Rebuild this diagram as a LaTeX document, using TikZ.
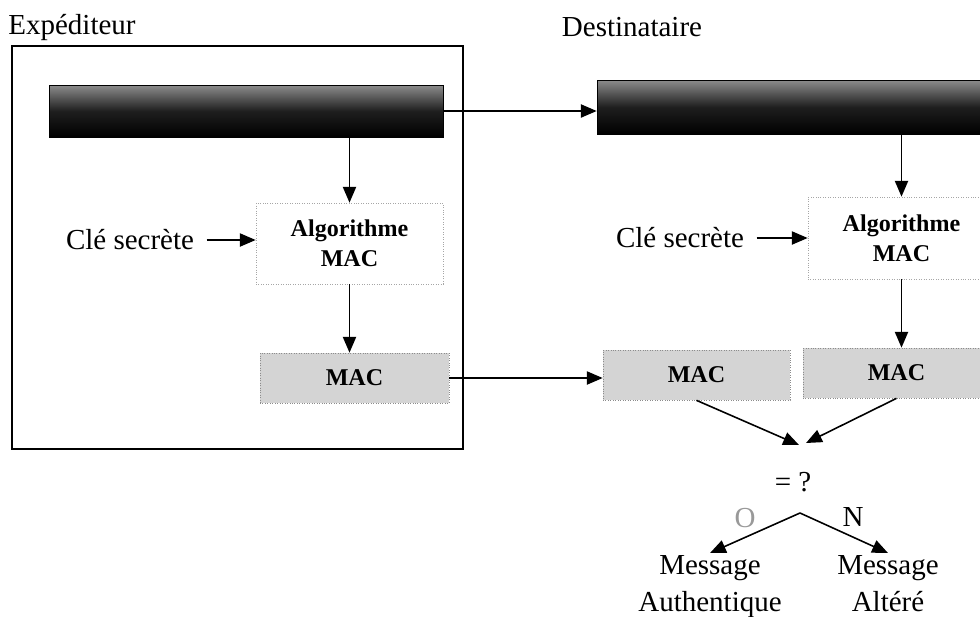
\documentclass[tikz,border=0pt]{standalone}
\usepackage{fontspec}
\setmainfont{Liberation Serif}
\usetikzlibrary{calc,arrows.meta,positioning}
\tikzset{
  msgbar/.style={draw=black, rectangle, top color=black!45, bottom color=black, middle color=black!88, inner sep=0pt},
  algobox/.style={draw=black!35, densely dotted, rectangle, fill=white, align=center, inner sep=0pt, font=\fontsize{13.7}{17}\selectfont\bfseries},
  macbox/.style={draw=black!45, densely dotted, rectangle, fill=black!17, inner sep=0pt, font=\fontsize{13.7}{17}\selectfont\bfseries},
  lbl/.style={font=\fontsize{16.5}{21.5}\selectfont, align=center, inner sep=1pt},
  arrow/.style={-{Triangle[length=9pt,width=7.5pt]}, line width=0.9pt}
}

\begin{document}
\begin{tikzpicture}[x=0.02cm, y=-0.02cm]
  \useasboundingbox (0,0) rectangle (980,616);
  \clip (0,0) rectangle (980,616);

  % expediteur
  \node [lbl] (exp) at (72,28) {Expéditeur};
  \draw [line width=0.7pt] (12,46) rectangle (463,449);
  \node [msgbar, minimum width=7.88cm, minimum height=1.04cm] (sendbar) at (246,111) {};
  \node [algobox, minimum width=3.74cm, minimum height=1.62cm] (sendalgo) at (349.5,243.5) {Algorithme\\MAC};
  \node [lbl] (cle1) at (130,240) {Clé secrète};
  \node [macbox, minimum width=3.78cm, minimum height=1.0cm] (sendmac) at (354.5,378) {MAC};

  % destinataire
  \node [lbl] (dest) at (632,27) {Destinataire};
  \node [msgbar, minimum width=8.3cm, minimum height=1.08cm] (recvbar) at (804.5,107) {};
  \node [algobox, minimum width=3.74cm, minimum height=1.64cm] (recvalgo) at (901.5,238) {Algorithme\\MAC};
  \node [lbl] (cle2) at (680,238) {Clé secrète};
  \node [macbox, minimum width=3.74cm, minimum height=1.0cm] (recvmac) at (696.5,375) {MAC};
  \node [macbox, minimum width=3.74cm, minimum height=1.0cm] (calcmac) at (896.5,373) {MAC};

  \coordinate (tipl) at (799,445);
  \coordinate (tipr) at (806,443);
  \node [lbl] (cmp) at (793,482) {= ?};
  \coordinate (fork) at (800,513);
  \node [lbl, text=black!40] (oui) at (745,518) {O};
  \node [lbl] (non) at (853,517) {N};
  \node [lbl, anchor=north] (auth) at (710,553) {Message\\Authentique};
  \node [lbl, anchor=north] (alt) at (888,553) {Message\\Altéré};

  \draw [arrow] (sendalgo.north |- sendbar.south) -- (sendalgo.north);
  \draw [arrow] ([xshift=6pt]cle1.east) -- (cle1.east -| sendalgo.west);
  \draw [arrow] (sendalgo.south) -- (sendalgo.south |- sendmac.north);
  \draw [arrow] (sendbar.east) -- (sendbar.east -| recvbar.west);
  \draw [arrow] (sendmac.east) -- (sendmac.east -| recvmac.west);

  \draw [arrow] (recvalgo.north |- recvbar.south) -- (recvalgo.north);
  \draw [arrow] ([xshift=6pt]cle2.east) -- (cle2.east -| recvalgo.west);
  \draw [arrow] (recvalgo.south) -- (recvalgo.south |- calcmac.north);
  \draw [arrow] (recvmac.south) -- (tipl);
  \draw [arrow] (calcmac.south) -- (tipr);
  \draw [arrow] (fork) -- (auth.north);
  \draw [arrow] (fork) -- (alt.north);
\end{tikzpicture}
\end{document}
